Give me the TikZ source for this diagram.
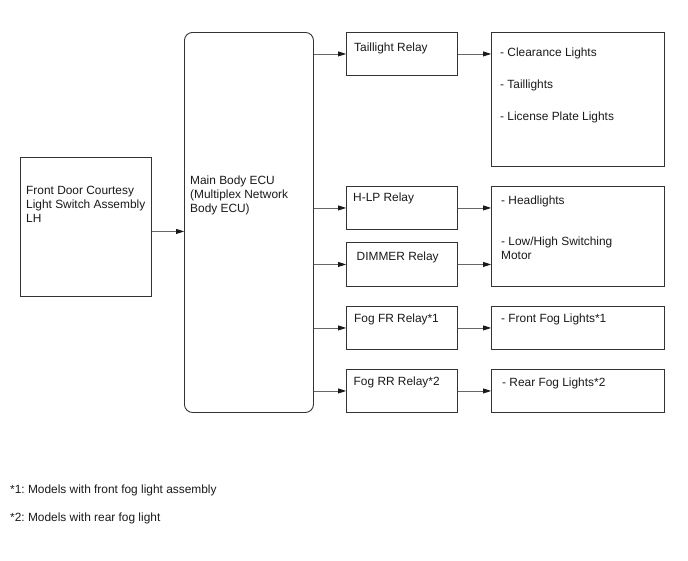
\documentclass[tikz,border=0pt]{standalone}
\usepackage{fontspec}
\setmainfont{Liberation Sans}
\usetikzlibrary{arrows.meta}
\frenchspacing
\begin{document}
\begin{tikzpicture}[x=1pt,y=-1pt,
  box/.style={draw=black!80,line width=0.9pt,rectangle,inner sep=0pt,anchor=north west},
  txt/.style={anchor=base west,inner sep=0pt,font=\fontsize{11.9}{14}\selectfont,align=left,text=black!90},
  arr/.style={draw=black!60,line width=0.8pt,-{Triangle[length=8pt,width=5pt,color=black!90,fill=black!90]}}]
\useasboundingbox (0,0) rectangle (688,560);
% boxes
\node[box,minimum width=131pt,minimum height=139pt] (fd) at (20,157) {};
\node[box,minimum width=129pt,minimum height=380pt,rounded corners=8pt] (ecu) at (184,32) {};
\node[box,minimum width=111pt,minimum height=43pt] (tl) at (346,32) {};
\node[box,minimum width=111pt,minimum height=43pt] (hlp) at (346,186) {};
\node[box,minimum width=111pt,minimum height=44pt] (dim) at (346,242) {};
\node[box,minimum width=111pt,minimum height=43pt] (ffr) at (346,306) {};
\node[box,minimum width=111pt,minimum height=43pt] (frr) at (346,369) {};
\node[box,minimum width=173pt,minimum height=134pt] (lb1) at (491,32) {};
\node[box,minimum width=173pt,minimum height=100pt] (lb2) at (491,186) {};
\node[box,minimum width=173pt,minimum height=43pt] (lb3) at (491,306) {};
\node[box,minimum width=173pt,minimum height=43pt] (lb4) at (491,369) {};
% texts (multi-line: base anchor is the last line's baseline)
\node[txt] (tfd) at (26,222) {Front Door Courtesy\\Light Switch Assembly\\LH};
\node[txt] (tecu) at (190,212) {Main Body ECU\\(Multiplex Network\\Body ECU)};
\node[txt] (ttl) at (354,51) {Taillight Relay};
\node[txt] (thlp) at (353,201.5) {H-LP Relay};
\node[txt] (tdim) at (356.5,260) {DIMMER Relay};
\node[txt] (tffr) at (354,322.5) {Fog FR Relay*1};
\node[txt] (tfrr) at (353.5,385.5) {Fog RR Relay*2};
\node[txt] (tl1a) at (500,56) {- Clearance Lights};
\node[txt] (tl1b) at (500,88) {- Taillights};
\node[txt] (tl1c) at (500,120) {- License Plate Lights};
\node[txt] (tl2a) at (501,204) {- Headlights};
\node[txt] (tl2b) at (501,259) {- Low/High Switching\\Motor};
\node[txt] (tl3) at (501,322.5) {- Front Fog Lights*1};
\node[txt] (tl4) at (502,386) {- Rear Fog Lights*2};
\node[txt] (fn1) at (10,493) {*1: Models with front fog light assembly};
\node[txt] (fn2) at (10,521) {*2: Models with rear fog light};
% arrows
\draw[arr] ([yshift=-4.5pt]fd.east) -- ([yshift=-4.5pt]fd.east -| ecu.west);
\draw[arr] (ecu.east |- tl.west) -- (tl.west);
\draw[arr] (ecu.east |- hlp.west) -- (hlp.west);
\draw[arr] (ecu.east |- dim.west) -- (dim.west);
\draw[arr] (ecu.east |- ffr.west) -- (ffr.west);
\draw[arr] (ecu.east |- frr.west) -- (frr.west);
\draw[arr] (tl.east) -- (tl.east -| lb1.west);
\draw[arr] (hlp.east) -- (hlp.east -| lb2.west);
\draw[arr] (dim.east) -- (dim.east -| lb2.west);
\draw[arr] (ffr.east) -- (ffr.east -| lb3.west);
\draw[arr] (frr.east) -- (frr.east -| lb4.west);
\end{tikzpicture}
\end{document}
